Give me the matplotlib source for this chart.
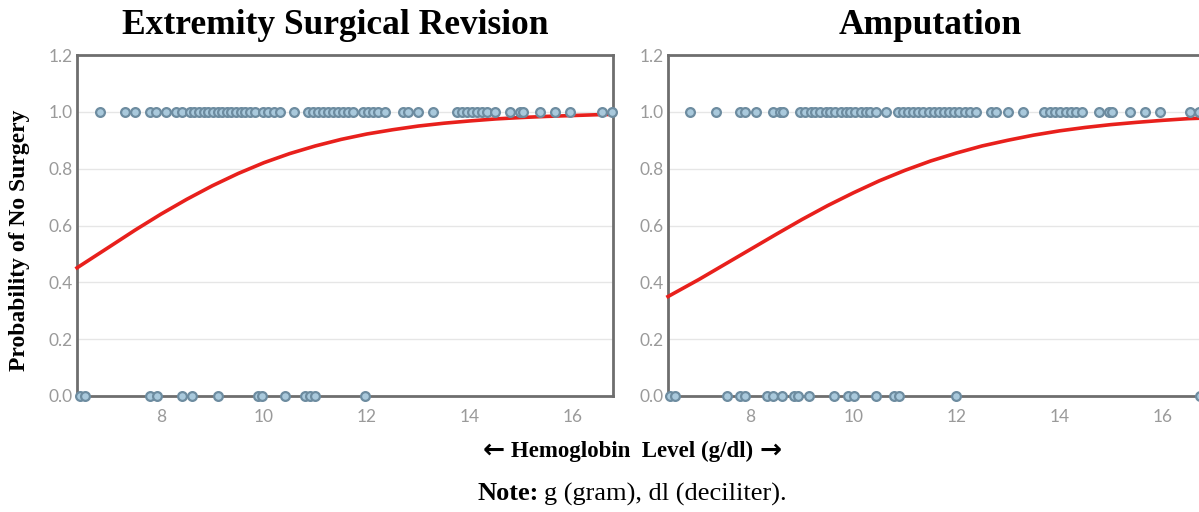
import matplotlib.pyplot as plt
import numpy as np

# hemoglobin values of patients with no surgery (y=1) and surgery (y=0)
rev_no_surgery = [6.82, 7.30, 7.50, 7.79, 7.90, 8.10, 8.29, 8.41,
                  8.56, 8.65, 8.74, 8.83, 8.92, 9.01, 9.10, 9.19, 9.28, 9.37,
                  9.46, 9.55, 9.64, 9.73, 9.83,
                  9.98, 10.08, 10.20, 10.31, 10.58,
                  10.86, 10.95, 11.05, 11.15, 11.24, 11.34, 11.44, 11.54, 11.63, 11.73,
                  11.92, 12.02, 12.12, 12.21, 12.35,
                  12.70, 12.80, 12.99, 13.28,
                  13.75, 13.85, 13.94, 14.04, 14.14, 14.23, 14.33, 14.49,
                  14.78, 14.97, 15.03, 15.36, 15.65, 15.94, 16.56, 16.76]
rev_surgery = [6.43, 6.53, 7.79, 7.92, 8.41, 8.60, 9.11, 9.88, 9.96, 10.41,
               10.80, 10.89, 10.99, 11.96]

amp_no_surgery = [6.83, 7.34, 7.80, 7.90, 8.10, 8.43, 8.58, 8.64,
                  8.97, 9.07, 9.17, 9.26, 9.36, 9.46, 9.55, 9.65, 9.75, 9.85,
                  9.94, 10.04, 10.14, 10.24, 10.33, 10.43,
                  10.63,
                  10.86, 10.96, 11.06, 11.16, 11.26, 11.36, 11.46, 11.56, 11.66,
                  11.76, 11.86, 11.96, 12.06, 12.16, 12.27, 12.38,
                  12.68, 12.77, 13.01, 13.30,
                  13.71, 13.81, 13.92, 14.02, 14.12, 14.22, 14.33, 14.43,
                  14.76, 14.96, 15.02, 15.37, 15.66, 15.95, 16.54, 16.71]
amp_surgery = [6.44, 6.54, 7.55, 7.80, 7.90, 8.33, 8.43, 8.62, 8.84, 8.93,
               9.13, 9.62, 9.89, 10.01, 10.44, 10.79, 10.88, 11.99, 16.73]

# fitted curve
rev_curve_x = [6.37, 7, 7.5, 8, 8.5, 9, 9.5, 10, 10.5, 11, 11.5, 12, 12.5,
               13, 13.5, 14, 14.5, 15, 15.5, 16, 16.5, 16.8]
rev_curve_y = [0.451, 0.525, 0.584, 0.640, 0.692, 0.740, 0.783, 0.821, 0.853,
               0.880, 0.903, 0.922, 0.937, 0.950, 0.960, 0.968, 0.975, 0.980,
               0.984, 0.987, 0.990, 0.991]
amp_curve_x = [6.4, 7, 7.5, 8, 8.5, 9, 9.5, 10, 10.5, 11, 11.5, 12, 12.5,
               13, 13.5, 14, 14.5, 15, 15.5, 16, 16.5, 16.8]
amp_curve_y = [0.350, 0.410, 0.463, 0.516, 0.569, 0.621, 0.670, 0.715, 0.757,
               0.794, 0.827, 0.855, 0.880, 0.900, 0.918, 0.933, 0.945, 0.955,
               0.963, 0.970, 0.976, 0.978]

titles = ['Extremity Surgical Revision', 'Amputation']
x_ticks = [8, 10, 12, 14, 16]
y_ticks = [0.0, 0.2, 0.4, 0.6, 0.8, 1.0, 1.2]

serif = ['Liberation Serif', 'DejaVu Serif']
tickfont = 'Lato'
spine_c = '#6e6e6e'
face_c = '#a9c9dc'
edge_c = '#6d8ca0'

fig = plt.figure(figsize=(11.99, 5.12), dpi=100)
ax1 = fig.add_axes([77 / 1199, 1 - 396 / 512, 536 / 1199, 341 / 512])
ax2 = fig.add_axes([668 / 1199, 1 - 396 / 512, 533 / 1199, 341 / 512])

panels = [(ax1, rev_no_surgery, rev_surgery, rev_curve_x, rev_curve_y, (6.37, 16.78)),
          (ax2, amp_no_surgery, amp_surgery, amp_curve_x, amp_curve_y, (6.4, 16.75))]

for i, (ax, ones, zeros, cx, cy, xl) in enumerate(panels):
    ax.set_xlim(*xl)
    ax.set_ylim(0, 1.2)
    ax.set_yticks(y_ticks)
    ax.set_yticklabels(['%.1f' % v for v in y_ticks])
    ax.set_xticks(x_ticks)
    ax.grid(axis='y', color='#e6e6e6', linewidth=1)
    ax.set_axisbelow(True)
    for s in ax.spines.values():
        s.set_color(spine_c)
        s.set_linewidth(2)
    ax.tick_params(length=0, labelsize=12.5, labelcolor='#9a9a9a')
    ax.tick_params(axis='x', pad=9)
    ax.tick_params(axis='y', pad=3)
    for lab in ax.get_xticklabels() + ax.get_yticklabels():
        lab.set_family(tickfont)
    ax.plot(cx, cy, color='#e8201c', linewidth=2.6, zorder=3, clip_on=False)
    ax.scatter(ones, [1.0] * len(ones), s=40, facecolor=face_c, edgecolor=edge_c,
               linewidth=1.6, zorder=4, clip_on=False)
    ax.scatter(zeros, [0.0] * len(zeros), s=40, facecolor=face_c, edgecolor=edge_c,
               linewidth=1.6, zorder=4, clip_on=False)

fig.text(335 / 1199, 1 - 25 / 512, titles[0], ha='center', va='center',
         family=serif, fontweight='bold', fontsize=25.5)
fig.text(930 / 1199, 1 - 25 / 512, titles[1], ha='center', va='center',
         family=serif, fontweight='bold', fontsize=25.5)
fig.text(20 / 1199, 1 - 240 / 512, 'Probability of No Surgery', rotation=90,
         ha='center', va='center', family=serif, fontweight='bold', fontsize=17)

# x label: heavy arrows either side of the text
ylab = 1 - 451 / 512
mid = fig.text(632 / 1199, ylab, 'Hemoglobin  Level (g/dl)', ha='center',
               va='center', family=serif, fontweight='bold', fontsize=16.5)
fig.canvas.draw()
mb = mid.get_window_extent()
fig.text((mb.x0 - 6) / 1199, ylab, '\u2190', ha='right', va='center',
         family='DejaVu Sans', fontweight='bold', fontsize=19)
fig.text((mb.x1 + 6) / 1199, ylab, '\u2192', ha='left', va='center',
         family='DejaVu Sans', fontweight='bold', fontsize=19)

t1 = fig.text(478 / 1199, 1 - 494 / 512, 'Note:', ha='left', va='center',
              family=serif, fontweight='bold', fontsize=19)
fig.canvas.draw()
bb = t1.get_window_extent()
fig.text((bb.x1 + 5) / 1199, 1 - 494 / 512, 'g (gram), dl (deciliter).', ha='left',
         va='center', family=serif, fontsize=19)

fig.savefig('out.png', dpi=100, facecolor='white')
